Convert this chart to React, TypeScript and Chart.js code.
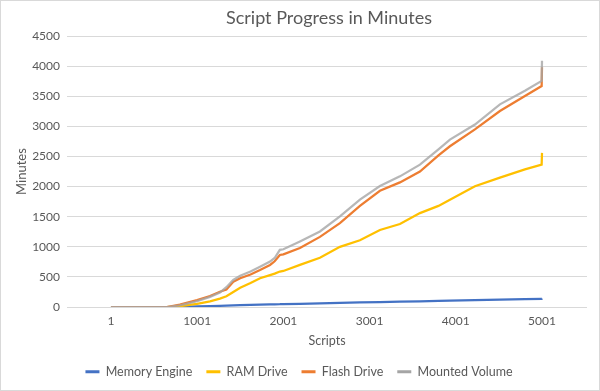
import React, { useEffect, useRef } from "react";
import { Chart, registerables } from "chart.js";

Chart.register(...registerables);

const scriptIndex = [1, 650, 800, 1000, 1150, 1265, 1340, 1420, 1500, 1620, 1730, 1846, 1900, 1960, 2001, 2193, 2425, 2657, 2889, 3121, 3353, 3585, 3800, 3933, 4223, 4513, 4803, 4997, 5001];
const memoryEngine = [0, 0, 2, 12, 18, 22, 25, 30, 33, 37, 41, 46, 47, 48, 50, 55, 62, 70, 77, 83, 90, 97, 103, 107, 115, 123, 131, 137, 145];
const ramDrive = [0, 0, 15, 55, 95, 140, 180, 250, 320, 400, 480, 530, 555, 590, 600, 700, 820, 1000, 1110, 1280, 1380, 1560, 1680, 1780, 2005, 2150, 2285, 2365, 2560];
const flashDrive = [0, 0, 40, 115, 185, 255, 290, 420, 480, 540, 615, 700, 760, 865, 875, 980, 1165, 1395, 1680, 1930, 2070, 2250, 2520, 2670, 2950, 3255, 3505, 3670, 3980];
const mountedVolume = [0, 0, 30, 100, 170, 240, 330, 450, 520, 590, 670, 755, 815, 950, 960, 1090, 1255, 1505, 1785, 2010, 2170, 2365, 2620, 2780, 3030, 3365, 3590, 3755, 4090];
const xTickValues = [1, 1001, 2001, 3001, 4001, 5001];
const seriesNames = ["Memory Engine", "RAM Drive", "Flash Drive", "Mounted Volume"];
const seriesColors = ["#4472C4", "#FFC000", "#ED7D31", "rgba(165,165,165,0.8)"];
const legendColors = ["#4472C4", "#FFC000", "#ED7D31", "#A5A5A5"];
const chartTitle = "Script Progress in Minutes";

const FONT = "Lato, 'Noto Sans', sans-serif";
const TEXT = "#595959";

export default function App() {
  const ref = useRef<HTMLCanvasElement | null>(null);

  useEffect(() => {
    document.body.style.margin = "0";
    const canvas = ref.current;
    if (!canvas) return;
    const seriesValues = [memoryEngine, ramDrive, flashDrive, mountedVolume];
    const framePlugin = {
      id: "frame",
      afterDraw(chart: any) {
        const ctx = chart.ctx;
        ctx.save();
        ctx.strokeStyle = "#D9D9D9";
        ctx.lineWidth = 1;
        ctx.strokeRect(0.5, 0.5, chart.width - 1, chart.height - 1);
        const a = chart.chartArea;
        ctx.fillStyle = TEXT;
        ctx.font = "18px " + FONT;
        ctx.textAlign = "center";
        ctx.textBaseline = "middle";
        ctx.fillText(chartTitle, (a.left + a.right) / 2 + 2, 18);
        ctx.restore();
      },
    };
    const chart = new Chart(canvas, {
      type: "line",
      data: {
        datasets: seriesNames.map((name, i) => ({
          label: name,
          data: scriptIndex.map((x, j) => ({ x, y: seriesValues[i][j] })),
          borderColor: seriesColors[i],
          backgroundColor: legendColors[i],
          borderWidth: 2.25,
          pointRadius: 0,
          tension: 0,
          order: 3 - i,
        })),
      },
      options: {
        responsive: false,
        animation: false,
        devicePixelRatio: 1,
        layout: { padding: { left: 11, right: 13, top: 36, bottom: 3 } },
        plugins: {
          title: { display: false },
          legend: {
            position: "bottom",
            labels: {
              color: TEXT,
              font: { family: FONT, size: 12.5 },
              boxWidth: 14,
              boxHeight: 3,
              padding: 14,
              generateLabels: () =>
                seriesNames.map((name, i) => ({
                  text: name,
                  fillStyle: legendColors[i],
                  strokeStyle: legendColors[i],
                  lineWidth: 0,
                  fontColor: TEXT,
                  datasetIndex: i,
                  hidden: false,
                })),
            },
          },
          tooltip: { enabled: false },
        },
        scales: {
          x: {
            type: "linear",
            min: -509,
            max: 5523,
            afterBuildTicks: (scale: any) => {
              scale.ticks = xTickValues.map((v) => ({ value: v }));
            },
            ticks: {
              color: TEXT,
              font: { family: FONT, size: 12 },
              padding: 7,
              maxRotation: 0,
              autoSkip: false,
              callback: (v: any) => String(v),
            },
            grid: { display: false, drawTicks: false },
            border: { display: false },
            title: {
              display: true,
              text: "Scripts",
              color: TEXT,
              font: { family: FONT, size: 12.5 },
              padding: { top: -2, bottom: 3 },
            },
          },
          y: {
            min: 0,
            max: 4500,
            afterBuildTicks: (scale: any) => {
              const t = [];
              for (let v = 0; v <= 4500; v += 500) t.push({ value: v });
              scale.ticks = t;
            },
            afterFit: (scale: any) => {
              scale.width = 56;
            },
            ticks: {
              color: TEXT,
              font: { family: FONT, size: 12 },
              padding: 7,
              callback: (v: any) => String(v),
            },
            grid: { color: "#D9D9D9", lineWidth: 1, drawTicks: false },
            border: { display: false },
            title: {
              display: true,
              text: "Minutes",
              color: TEXT,
              font: { family: FONT, size: 13 },
              padding: { top: 3, bottom: 4 },
            },
          },
        },
      },
      plugins: [framePlugin],
    });
    return () => chart.destroy();
  }, []);

  return (
    <div style={{ width: 600, height: 391 }}>
      <canvas ref={ref} width={600} height={391} style={{ display: "block" }} />
    </div>
  );
}
